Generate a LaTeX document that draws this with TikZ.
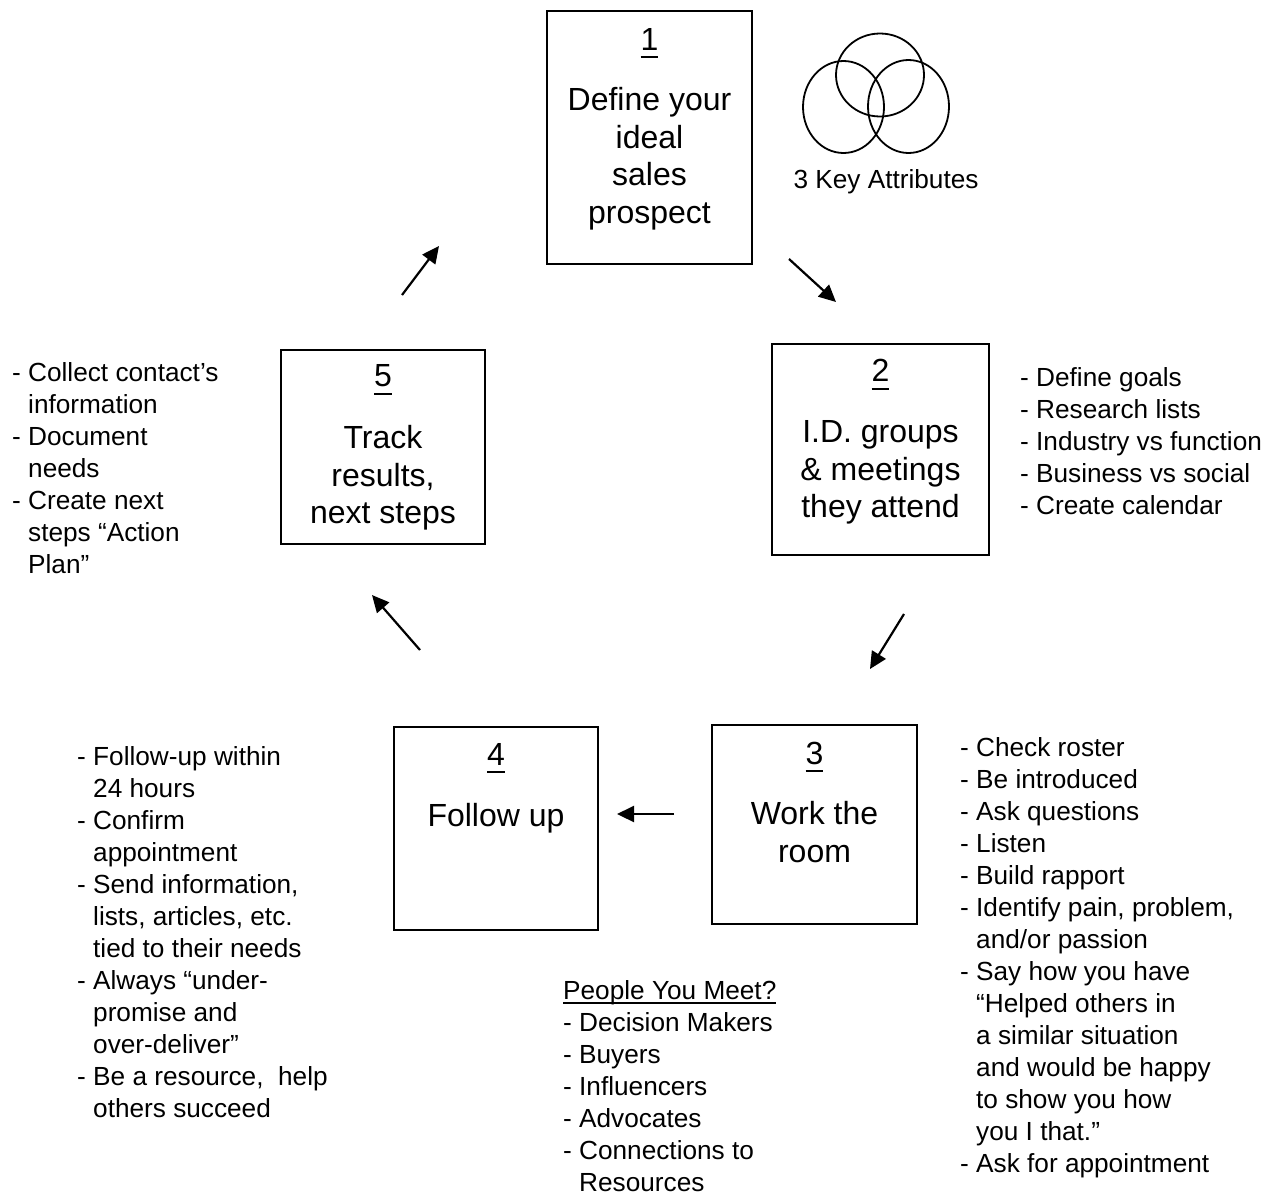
\documentclass[tikz,border=0pt]{standalone}
\usepackage{fontspec}
\setmainfont{Liberation Sans}
\usetikzlibrary{arrows.meta,shapes.geometric}
\newsavebox\ulbox
\newcommand\myul[3]{\sbox\ulbox{#1}\rlap{\rule[#2]{\wd\ulbox}{#3}}\usebox\ulbox}
\newcommand\ind{\phantom{- }}
\begin{document}
\begin{tikzpicture}[x=1pt,y=-1pt,
  box/.style={draw,line width=2pt,rectangle,inner sep=0pt},
  num/.style={anchor=base,inner sep=0pt,font=\fontsize{32}{38}\selectfont},
  btext/.style={anchor=north,inner sep=0pt,align=center,font=\fontsize{32}{37.7}\selectfont},
  side/.style={anchor=north west,inner sep=0pt,align=left,font=\fontsize{26.2}{32}\selectfont},
  arr/.style={line width=2.2pt,-{Triangle[length=17pt,width=16pt]}},
  ring/.style={draw,ellipse,line width=1.8pt,inner sep=0pt}]
\useasboundingbox (0,0) rectangle (1274,1197);

% boxes
\node[box,minimum width=205pt,minimum height=253pt] (b1) at (649.5,137.5) {};
\node[box,minimum width=217pt,minimum height=211pt] (b2) at (880.5,449.5) {};
\node[box,minimum width=205pt,minimum height=199pt] (b3) at (814.5,824.5) {};
\node[box,minimum width=204pt,minimum height=203pt] (b4) at (496,828.5) {};
\node[box,minimum width=204pt,minimum height=194pt] (b5) at (383,447) {};

% numbers
\node[num] (n1) at (649.5,50) {\myul{1}{-8pt}{2pt}};
\node[num] (n2) at (880.5,381.7) {\myul{2}{-8pt}{2pt}};
\node[num] (n3) at (814.5,764.3) {\myul{3}{-8pt}{2pt}};
\node[num] (n4) at (496,765) {\myul{4}{-8pt}{2pt}};
\node[num] (n5) at (383,386.7) {\myul{5}{-8pt}{2pt}};

% box texts
\node[btext] (t1) at (649.5,83.75) {\strut Define your\\ideal\\sales\\prospect};
\node[btext] (t2) at (880.5,415.75) {\strut I.D. groups\\\& meetings\\they attend};
\node[btext] (t3) at (814.5,797.75) {\strut Work the\\room};
\node[btext] (t4) at (496,799.5) {\strut Follow up};
\node[btext] (t5) at (383,421.75) {\strut Track\\results,\\next steps};

% three circles
\node[ring,minimum width=88pt,minimum height=83pt] (c1) at (880,75) {};
\node[ring,minimum width=81pt,minimum height=92pt] (c2) at (843.5,107) {};
\node[ring,minimum width=81pt,minimum height=93pt] (c3) at (908.5,106.5) {};
\node[anchor=base,inner sep=0pt,font=\fontsize{26.2}{32}\selectfont] (attr) at (886,188) {3 Key Attributes};

% side texts
\node[side] (s2) at (1020,363.6) {\strut - Define goals\\- Research lists\\- Industry vs function\\- Business vs social\\- Create calendar};
\node[side] (s5) at (12,359.3) {\strut - Collect contact’s\\\ind information\\- Document\\\ind needs\\- Create next\\\ind steps “Action\\\ind Plan”};
\node[side] (s3) at (960,733.6) {\strut - Check roster\\- Be introduced\\- Ask questions\\- Listen\\- Build rapport\\- Identify pain, problem,\\\ind and/or passion\\- Say how you have\\\ind “Helped others in\\\ind a similar situation\\\ind and would be happy\\\ind to show you how\\\ind you I that.”\\- Ask for appointment};
\node[side] (s4) at (77,742.6) {\strut - Follow-up within\\\ind 24 hours\\- Confirm\\\ind appointment\\- Send information,\\\ind lists, articles, etc.\\\ind tied to their needs\\- Always “under-\\\ind promise and\\\ind over-deliver”\\- Be a resource, \ help\\\ind others succeed};
\node[side] (pp) at (563,977.1) {\strut\myul{People You Meet?}{-4pt}{1.5pt}\\- Decision Makers\\- Buyers\\- Influencers\\- Advocates\\- Connections to\\\ind Resources};

% arrows
\coordinate (p12s) at (789,259); \coordinate (p12e) at (836,302);
\coordinate (p23s) at (904,614); \coordinate (p23e) at (870,669);
\coordinate (p34s) at (674,814); \coordinate (p34e) at (617,814);
\coordinate (p45s) at (420,650); \coordinate (p45e) at (372,595);
\coordinate (p51s) at (402,295); \coordinate (p51e) at (439,246);
\draw[arr] (p12s) -- (p12e);
\draw[arr] (p23s) -- (p23e);
\draw[arr] (p34s) -- (p34e);
\draw[arr] (p45s) -- (p45e);
\draw[arr] (p51s) -- (p51e);
\end{tikzpicture}
\end{document}
